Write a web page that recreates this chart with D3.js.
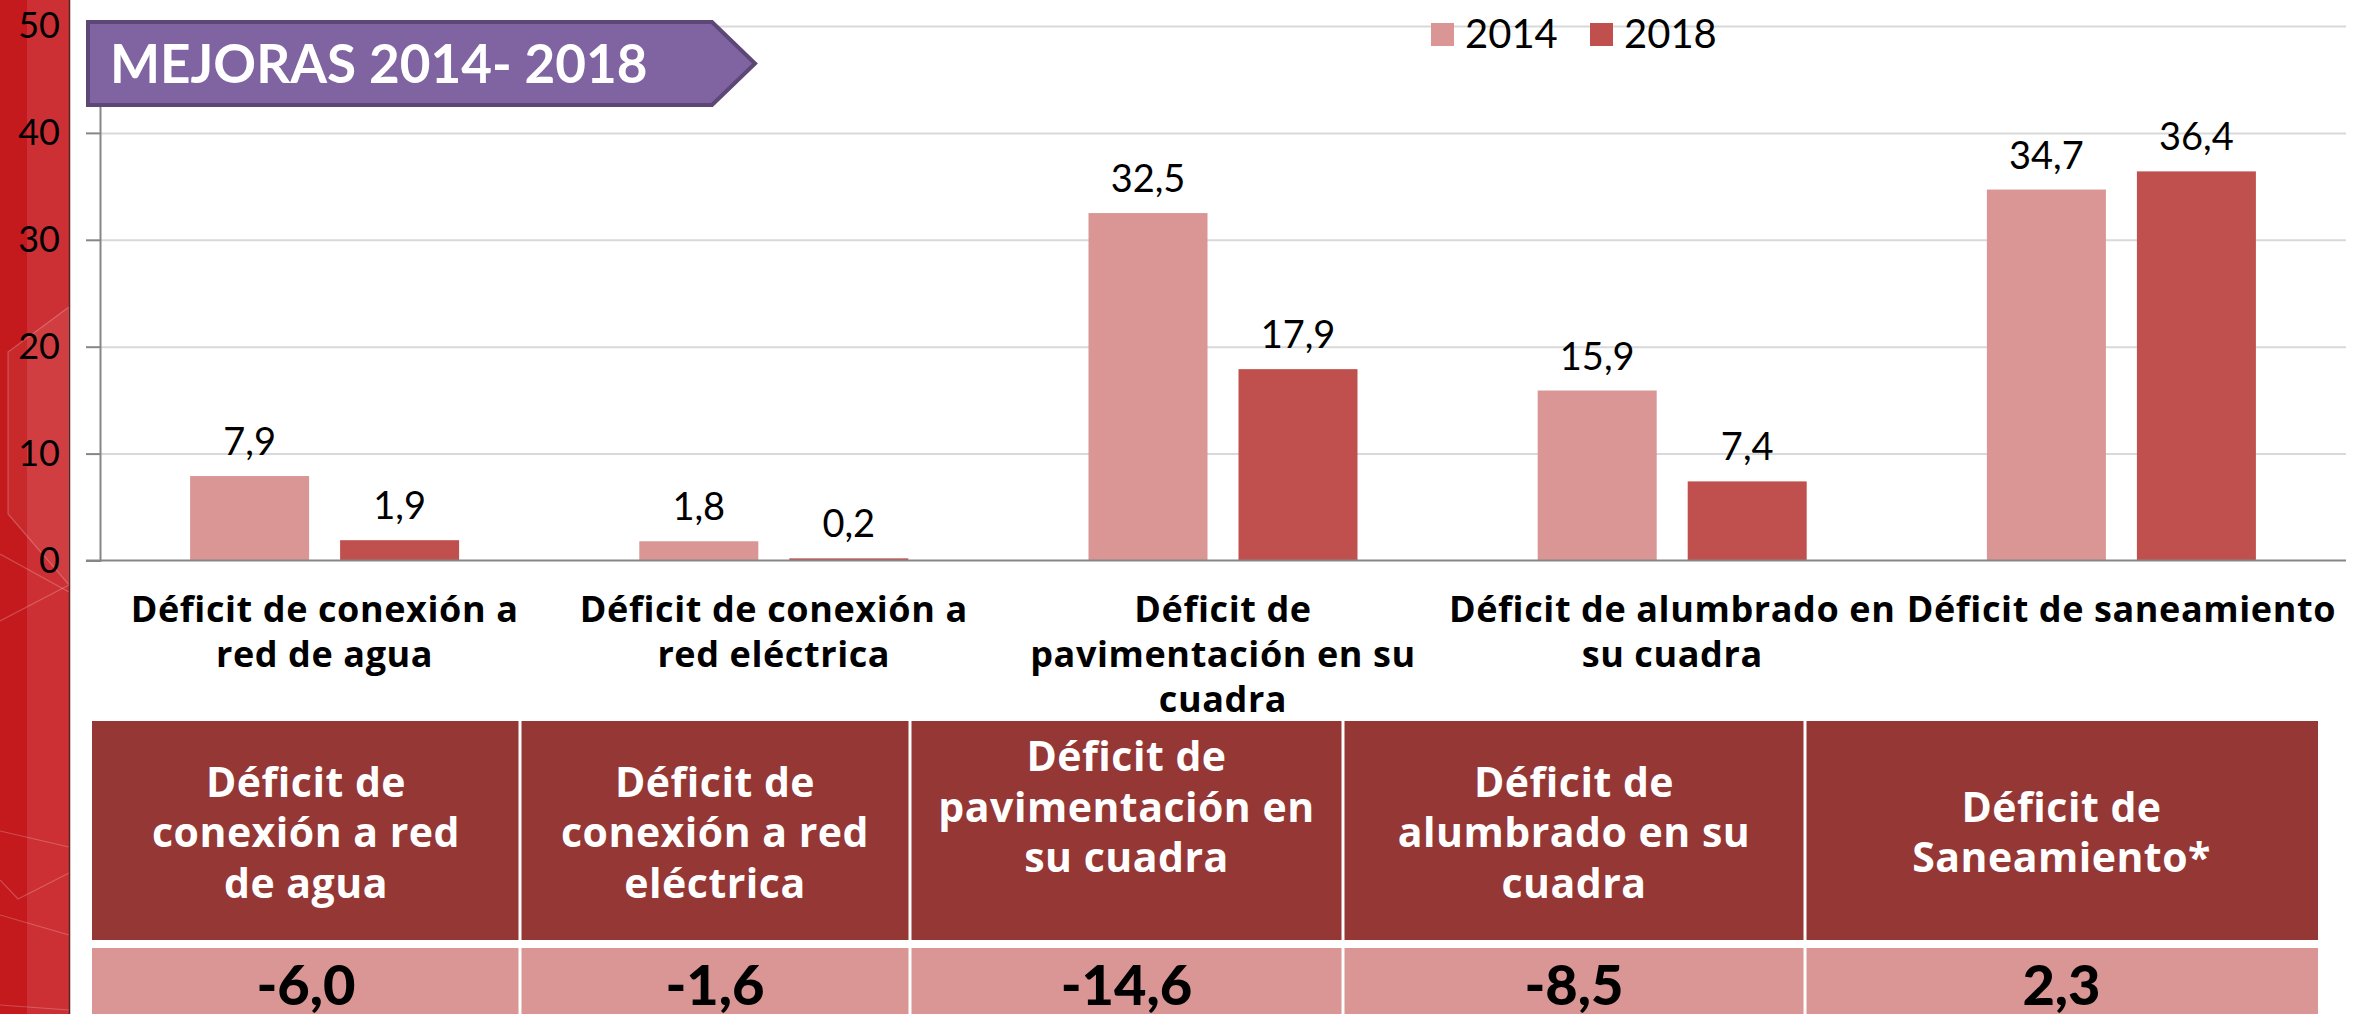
<!DOCTYPE html>
<html>
<head>
<meta charset="utf-8">
<script src="https://cdn.jsdelivr.net/npm/d3@7"></script>
<style>
  html, body { margin: 0; padding: 0; background: #ffffff; }
  svg { display: block; }
  text { font-family: "Lato", "Open Sans", sans-serif; }
  .wide { font-family: "Open Sans", "Lato", sans-serif; }
</style>
</head>
<body>
<svg id="chart" width="2359" height="1014"></svg>
<script>
// ---------------- DATA ----------------
const categories = [
  "Déficit de conexión a red de agua",
  "Déficit de conexión a red eléctrica",
  "Déficit de pavimentación en su cuadra",
  "Déficit de alumbrado en su cuadra",
  "Déficit de saneamiento"
];
const categoryLabelLines = [
  ["Déficit de conexión a", "red de agua"],
  ["Déficit de conexión a", "red eléctrica"],
  ["Déficit de", "pavimentación en su", "cuadra"],
  ["Déficit de alumbrado en", "su cuadra"],
  ["Déficit de saneamiento"]
];
const seriesNames = ["2014", "2018"];
const values2014 = [7.9, 1.8, 32.5, 15.9, 34.7];
const values2018 = [1.9, 0.2, 17.9, 7.4, 36.4];
const yTicks = [0, 10, 20, 30, 40, 50];
const titleText = "MEJORAS 2014- 2018";
const tableHeaderLines = [
  ["Déficit de", "conexión a red", "de agua"],
  ["Déficit de", "conexión a red", "eléctrica"],
  ["Déficit de", "pavimentación en", "su cuadra", ""],
  ["Déficit de", "alumbrado en su", "cuadra"],
  ["Déficit de", "Saneamiento*"]
];
const tableChanges = [-6.0, -1.6, -14.6, -8.5, 2.3];

// ---------------- STYLE / LAYOUT ----------------
const colors = { "2014": "#d99694", "2018": "#c0504d" };
const headerFill = "#953735";
const valueFill = "#d99694";
const plot = { left: 100, right: 2346, top: 26, bottom: 560.5 };
const tableCols = [92, 520, 910, 1343, 1805, 2318];
const table = { headTop: 721, headBottom: 940, valTop: 948, valBottom: 1014 };

const locale = d3.formatLocale({ decimal: ",", thousands: ".", grouping: [3], currency: ["", "€"], minus: "-" });
const fmt = locale.format(".1f");

const svg = d3.select("#chart");

// ---------------- LEFT RED STRIP ----------------
const strip = svg.append("g");
strip.append("rect").attr("x", 0).attr("y", 0).attr("width", 70).attr("height", 1014).attr("fill", "#cd3034");
strip.append("rect").attr("x", 0).attr("y", 0).attr("width", 27).attr("height", 1014).attr("fill", "#c41a1d");
strip.append("path")
  .attr("d", "M8,352 L69,307 L69,585 L8,514 Z")
  .attr("fill", "#ffffff").attr("fill-opacity", 0.07)
  .attr("stroke", "#ffffff").attr("stroke-opacity", 0.22).attr("stroke-width", 1.2);
[
  "M0,554 L69,592", "M0,621 L69,585", "M0,831 L69,847",
  "M0,880 L18,899 L69,873", "M0,915 L69,935", "M0,1005 L69,1010"
].forEach(d => strip.append("path").attr("d", d).attr("fill", "none")
  .attr("stroke", "#ffffff").attr("stroke-opacity", 0.22).attr("stroke-width", 1.2));
strip.append("line").attr("x1", 69.5).attr("x2", 69.5).attr("y1", 0).attr("y2", 1014)
  .attr("stroke", "#5b2222").attr("stroke-width", 1.5);

// ---------------- SCALES ----------------
const y = d3.scaleLinear().domain([0, 50]).range([plot.bottom, plot.top]);
const x0 = d3.scaleBand().domain(categories).range([plot.left, plot.right]).padding(0);
const groupWidth = 269;
const x1 = d3.scaleBand().domain(seriesNames).range([0, groupWidth]).paddingInner(31 / 150).paddingOuter(0);
const groupOffset = (x0.bandwidth() - groupWidth) / 2;

// ---------------- GRID + AXES ----------------
const gridG = svg.append("g").attr("transform", `translate(${plot.left},0)`)
  .call(d3.axisLeft(y).tickValues(yTicks.filter(t => t > 0)).tickSize(-(plot.right - plot.left)).tickFormat(""));
gridG.select(".domain").remove();
gridG.selectAll(".tick line").attr("stroke", "#d9d9d9").attr("stroke-width", 2);

const yAxisG = svg.append("g").attr("transform", `translate(${plot.left},0)`)
  .call(d3.axisLeft(y).tickValues(yTicks).tickSize(14).tickPadding(26).tickFormat(d3.format("d")));
yAxisG.select(".domain").attr("stroke", "#868686").attr("stroke-width", 2);
yAxisG.selectAll(".tick line").attr("stroke", "#868686").attr("stroke-width", 2);
yAxisG.selectAll(".tick text").attr("fill", "#000").style("font-size", "36px")
  .style("font-family", "Lato, sans-serif");

// ---------------- BARS ----------------
const rows = categories.map((c, i) => ({ cat: c, vals: [
  { s: "2014", v: values2014[i] }, { s: "2018", v: values2018[i] }
] }));
const groups = svg.append("g").selectAll("g").data(rows).join("g")
  .attr("transform", d => `translate(${x0(d.cat) + groupOffset},0)`);
groups.selectAll("rect").data(d => d.vals).join("rect")
  .attr("x", d => x1(d.s)).attr("width", x1.bandwidth())
  .attr("y", d => y(d.v)).attr("height", d => y(0) - y(d.v))
  .attr("fill", d => colors[d.s]);
groups.selectAll("text").data(d => d.vals).join("text")
  .attr("x", d => x1(d.s) + x1.bandwidth() / 2)
  .attr("y", d => y(d.v) - 21)
  .attr("text-anchor", "middle").attr("fill", "#000")
  .style("font-size", "38px")
  .text(d => fmt(d.v));

// x baseline (over bars)
svg.append("line").attr("x1", plot.left - 14).attr("x2", plot.right)
  .attr("y1", y(0)).attr("y2", y(0)).attr("stroke", "#868686").attr("stroke-width", 2);

// ---------------- CATEGORY LABELS ----------------
const catG = svg.append("g");
categories.forEach((c, i) => {
  const t = catG.append("text").attr("class", "wide").attr("text-anchor", "middle").attr("fill", "#000")
    .style("font-size", "36px").style("font-weight", "700").style("letter-spacing", "0.6px");
  categoryLabelLines[i].forEach((ln, j) => {
    t.append("tspan").attr("x", x0(c) + x0.bandwidth() / 2).attr("y", 622 + j * 45).text(ln);
  });
});

// ---------------- TITLE BANNER ----------------
const banner = svg.append("g");
banner.append("path")
  .attr("d", "M88,22 L712,22 L755,63.5 L712,105 L88,105 Z")
  .attr("fill", "#8064a2").attr("stroke", "#5c4776").attr("stroke-width", 4).attr("stroke-linejoin", "miter");
banner.append("text").attr("x", 110).attr("y", 83).attr("fill", "#fff")
  .style("font-size", "53px").style("font-weight", "700").text(titleText);

// ---------------- LEGEND ----------------
const legend = svg.append("g");
const legendX = [1431, 1590];
seriesNames.forEach((s, i) => {
  legend.append("rect").attr("x", legendX[i]).attr("y", 23).attr("width", 23).attr("height", 23).attr("fill", colors[s]);
  legend.append("text").attr("x", legendX[i] + 34).attr("y", 48).attr("fill", "#000")
    .style("font-size", "40px").text(s);
});

// ---------------- TABLE ----------------
const tbl = svg.append("g");
categories.forEach((c, i) => {
  const xl = tableCols[i] + (i > 0 ? 1.5 : 0);
  const xr = tableCols[i + 1] - (i < categories.length - 1 ? 1.5 : 0);
  tbl.append("rect").attr("x", xl).attr("y", table.headTop).attr("width", xr - xl)
    .attr("height", table.headBottom - table.headTop).attr("fill", headerFill);
  tbl.append("rect").attr("x", xl).attr("y", table.valTop).attr("width", xr - xl)
    .attr("height", table.valBottom - table.valTop).attr("fill", valueFill);
  const cx = (tableCols[i] + tableCols[i + 1]) / 2;
  const lines = tableHeaderLines[i];
  const n = lines.length;
  const t = tbl.append("text").attr("class", "wide").attr("text-anchor", "middle").attr("fill", "#fff")
    .style("font-size", "41px").style("font-weight", "700").style("letter-spacing", "0.5px");
  lines.forEach((ln, j) => {
    t.append("tspan").attr("x", cx).attr("y", 847 + (j - (n - 1) / 2) * 50.5).text(ln);
  });
  tbl.append("text").attr("x", cx).attr("y", 1005).attr("text-anchor", "middle").attr("fill", "#000")
    .style("font-size", "56px").style("font-weight", "900").text(fmt(tableChanges[i]));
});
</script>
</body>
</html>
